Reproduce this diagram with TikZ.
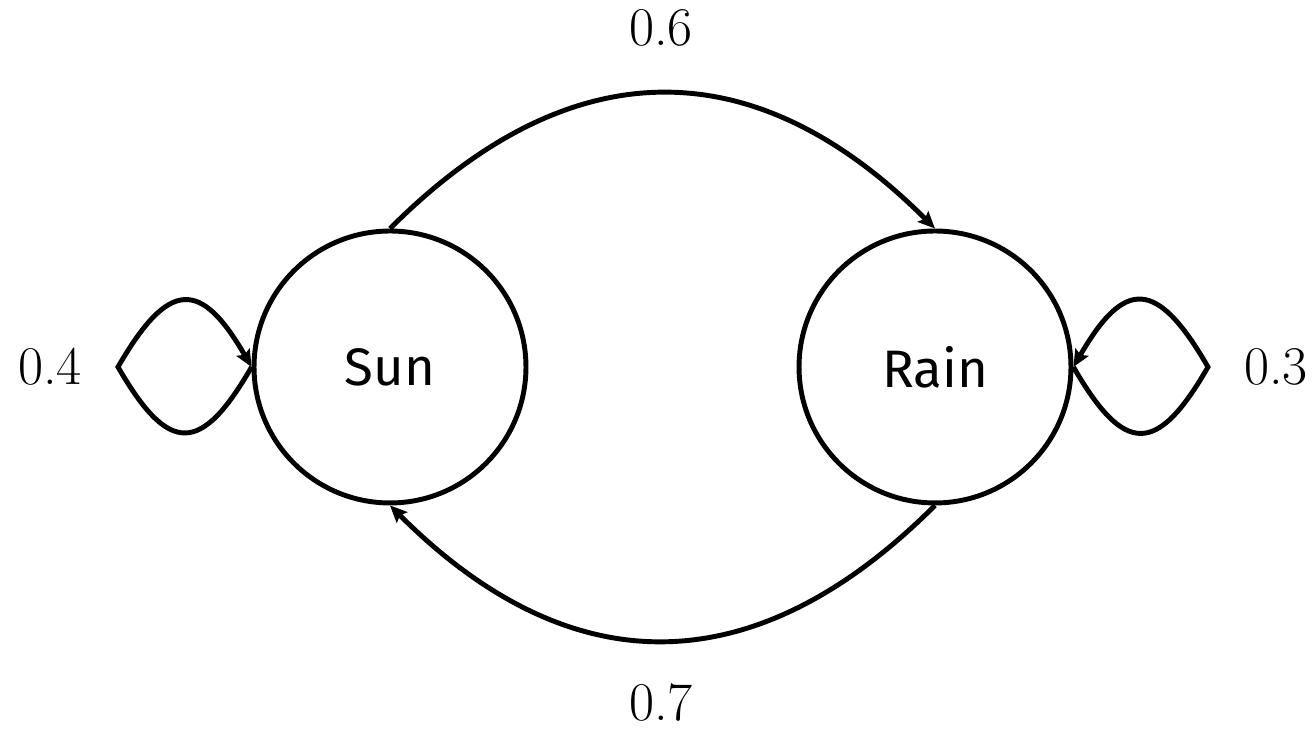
\documentclass[tikz,border=0pt]{standalone}
\usepackage{fontspec}
\setsansfont{Fira Sans}
\usetikzlibrary{arrows.meta}
\newcommand{\FS}{\fontsize{30}{36}\selectfont}
\newcommand{\FN}{\fontsize{31}{37}\selectfont}

\begin{document}
\begin{tikzpicture}[x=0.02cm,y=0.02cm]
\tikzstyle{state}=[circle,draw,line width=2.8pt,minimum size=5.44cm,inner sep=0pt,font=\FS\sffamily]
\tikzstyle{prob}=[draw=none,fill=none,inner sep=0pt,font=\FN]
\tikzstyle{line}=[line width=2.8pt,-{Stealth[length=0.34cm,width=0.3cm,inset=0.06cm]}]

\useasboundingbox (0,0) rectangle (1316,732);

\node[state] (sun)  at (390,365) {Sun};
\node[state] (rain) at (935,365) {Rain};

\coordinate (tipL) at (118,365);
\coordinate (tipR) at (1208,365);

\draw[line] (sun.north) to[out=45,in=135,looseness=1.2] (rain.north);
\draw[line] (rain.south) to[out=-135,in=-45,looseness=1.2] (sun.south);
\draw[line] (sun.west) to[out=-120,in=-60,looseness=1.95] (tipL)
                       to[out=60,in=120,looseness=1.95] (sun.west);
\draw[line] (rain.east) to[out=-60,in=-120,looseness=1.95] (tipR)
                        to[out=120,in=60,looseness=1.95] (rain.east);

\node[prob] (p66) at (661,704) {0.6};
\node[prob] (p77) at (661,29)  {0.7};
\node[prob] (p44) at (50,365)  {0.4};
\node[prob] (p33) at (1276,365) {0.3};
\end{tikzpicture}
\end{document}
